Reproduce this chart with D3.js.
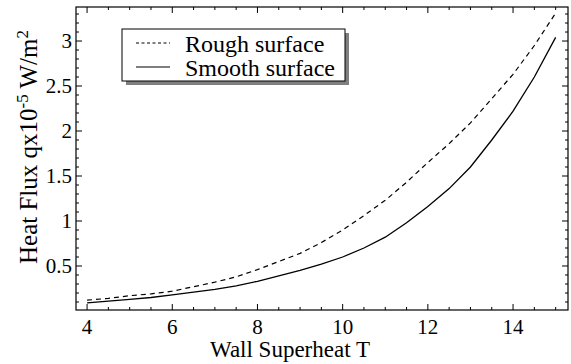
<!DOCTYPE html>
<html><head><meta charset="utf-8">
<script src="https://cdn.jsdelivr.net/npm/d3@7"></script>
<style>
body{margin:0;background:#fff;}
svg text{font-family:"Liberation Serif","Times New Roman",serif;fill:#000;}
</style></head>
<body><svg id="c" width="571" height="364"></svg>
<script>
const wallSuperheat = [4,4.5,5,5.5,6,6.5,7,7.5,8,8.5,9,9.5,10,10.5,11,11.5,12,12.5,13,13.5,14,14.5,15];
const roughFlux  = [0.12,0.14,0.17,0.19,0.22,0.27,0.32,0.38,0.46,0.55,0.64,0.76,0.90,1.06,1.23,1.43,1.65,1.86,2.09,2.36,2.63,2.95,3.31];
const smoothFlux = [0.09,0.11,0.13,0.15,0.18,0.21,0.24,0.28,0.33,0.39,0.45,0.52,0.60,0.70,0.82,0.98,1.16,1.36,1.60,1.90,2.22,2.60,3.04];
const xTicks = [4,6,8,10,12,14];
const yTicks = [0.5,1,1.5,2,2.5,3];
const seriesNames = ["Rough surface","Smooth surface"];

const FONT = "Liberation Serif, Times New Roman, serif";
const svg = d3.select("#c");
const L=76,R=568,T=7,B=310;
const x = d3.scaleLinear().domain([3.74,15.29]).range([L,R]);
const y = d3.scaleLinear().domain([0.011,3.378]).range([B,T]);

const xMinor = d3.range(4,15.3,0.5).filter(v=>!xTicks.includes(v));
const yMinor = d3.range(0.1,3.38,0.1).map(v=>+v.toFixed(2)).filter(v=>!yTicks.includes(v));

const g = svg.append("g");
function ticks(vals,len){
  vals.forEach(v=>{
    const px=x(v);
    g.append("line").attr("x1",px).attr("x2",px).attr("y1",B).attr("y2",B-len).attr("stroke","#000");
    g.append("line").attr("x1",px).attr("x2",px).attr("y1",T).attr("y2",T+len).attr("stroke","#000");
  });
}
function yticks(vals,len){
  vals.forEach(v=>{
    const py=y(v);
    g.append("line").attr("y1",py).attr("y2",py).attr("x1",L).attr("x2",L+len).attr("stroke","#000");
    g.append("line").attr("y1",py).attr("y2",py).attr("x1",R).attr("x2",R-len).attr("stroke","#000");
  });
}
ticks(xTicks,6); ticks(xMinor,3);
yticks(yTicks,6); yticks(yMinor,3);

g.append("rect").attr("x",L).attr("y",T).attr("width",R-L).attr("height",B-T)
 .attr("fill","none").attr("stroke","#000").attr("stroke-width",1.2);

xTicks.forEach(v=>{
  svg.append("text").attr("x",x(v)).attr("y",334).attr("text-anchor","middle")
    .attr("font-family",FONT).attr("font-size",21).text(v);
});
yTicks.forEach(v=>{
  svg.append("text").attr("x",72).attr("y",y(v)+7).attr("text-anchor","end")
    .attr("font-family",FONT).attr("font-size",21).text(v);
});

svg.append("text").attr("x",(L+R)/2-32).attr("y",357).attr("text-anchor","middle")
  .attr("font-family",FONT).attr("font-size",23).text("Wall Superheat T");
const yt = svg.append("text").attr("transform","translate(37,147) rotate(-90)")
  .attr("text-anchor","middle").attr("font-family",FONT).attr("font-size",25);
yt.append("tspan").text("Heat Flux qx10");
yt.append("tspan").attr("dy",-9).attr("font-size",17).text("-5");
yt.append("tspan").attr("dy",9).text(" W/m");
yt.append("tspan").attr("dy",-9).attr("font-size",17).text("2");

const line = d3.line().x((d,i)=>x(wallSuperheat[i])).y(d=>y(d));
svg.append("path").datum(roughFlux).attr("d",line).attr("fill","none")
  .attr("stroke","#000").attr("stroke-width",1.2).attr("stroke-dasharray","5,4");
svg.append("path").datum(smoothFlux).attr("d",line).attr("fill","none")
  .attr("stroke","#000").attr("stroke-width",1.3);

const lg = svg.append("g");
lg.append("rect").attr("x",126).attr("y",33).attr("width",223).attr("height",52).attr("fill","#808080");
lg.append("rect").attr("x",122).attr("y",29).attr("width",223).attr("height",52).attr("fill","#fff").attr("stroke","#000");
const dashes=["3,2.5",null];
seriesNames.forEach((n,i)=>{
  const ly = 43 + i*24;
  const l = lg.append("line").attr("x1",136).attr("x2",170).attr("y1",ly).attr("y2",ly)
    .attr("stroke","#000").attr("stroke-width",1.2);
  if(dashes[i]) l.attr("stroke-dasharray",dashes[i]);
  lg.append("text").attr("x",185).attr("y",ly+9).attr("font-family",FONT).attr("font-size",24).text(n);
});
</script></body></html>
